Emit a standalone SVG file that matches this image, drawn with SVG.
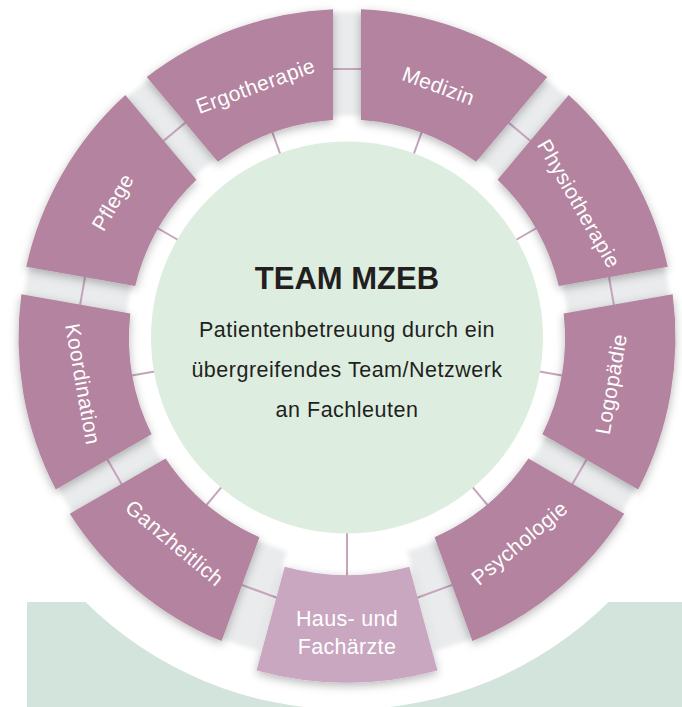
<svg xmlns="http://www.w3.org/2000/svg" width="682" height="707" viewBox="0 0 682 707">
<defs>
<filter id="shadow" x="-30%" y="-30%" width="160%" height="160%">
<feDropShadow dx="0" dy="3" stdDeviation="5" flood-color="#000" flood-opacity="0.28"/>
</filter>
<filter id="soft" x="-10%" y="-10%" width="120%" height="120%">
<feGaussianBlur stdDeviation="2"/>
</filter>
<style>
.sec{fill:#b3839f;filter:url(#shadow);}
.sec2{fill:#c9a7c0;filter:url(#shadow);}
.lbl{font-family:"Liberation Sans",Arial,sans-serif;font-size:21px;fill:#ffffff;text-anchor:middle;dominant-baseline:central;letter-spacing:0.4px;}
.con{stroke:#c5a4bc;stroke-width:2;fill:none;}
.ctr{font-family:"Liberation Sans",Arial,sans-serif;fill:#231f20;text-anchor:middle;}
.wt{fill:#ffffff;}
</style>
</defs>
<rect width="682" height="707" fill="#ffffff"/>
<rect x="27" y="602" width="655" height="105" fill="#d3e4dc"/>
<circle cx="347" cy="337.5" r="372" fill="#ffffff"/>
<path d="M347,12 A325.5,325.5 0 1 1 346.99,12 Z M347,115.5 A222,222 0 1 0 347.01,115.5 Z" fill="#e9ebec" fill-rule="evenodd" filter="url(#soft)"/>
<polygon points="347,337.5 438,660 256,660" fill="#ffffff" filter="url(#soft)"/>
<g id="connectors">
<line class="con" x1="321" y1="69" x2="373" y2="69"/>
<line class="con" x1="499.67" y1="115.12" x2="539.51" y2="148.54"/>
<line class="con" x1="606.91" y1="265.29" x2="615.93" y2="316.49"/>
<line class="con" x1="592.52" y1="449.23" x2="566.52" y2="494.27"/>
<line class="con" x1="463.26" y1="580.92" x2="414.40" y2="598.70"/>
<line class="con" x1="279.60" y1="598.70" x2="230.74" y2="580.92"/>
<line class="con" x1="127.48" y1="494.27" x2="101.48" y2="449.23"/>
<line class="con" x1="78.07" y1="316.49" x2="87.09" y2="265.29"/>
<line class="con" x1="154.49" y1="148.54" x2="194.33" y2="115.12"/>
<line class="con" x1="413.35" y1="155.20" x2="422.24" y2="130.77"/>
<line class="con" x1="515.0" y1="240.5" x2="537.52" y2="227.5"/>
<line class="con" x1="538.05" y1="371.18" x2="563.66" y2="375.69"/>
<line class="con" x1="471.70" y1="486.10" x2="488.42" y2="506.02"/>
<line class="con" x1="347" y1="531.5" x2="347" y2="579"/>
<line class="con" x1="222.30" y1="486.10" x2="205.58" y2="506.02"/>
<line class="con" x1="155.95" y1="371.18" x2="130.34" y2="375.69"/>
<line class="con" x1="179.0" y1="240.5" x2="156.48" y2="227.5"/>
<line class="con" x1="280.65" y1="155.20" x2="271.76" y2="130.77"/>
</g>
<g id="center">
<circle cx="347" cy="337.5" r="196" fill="#ddeee1"/>
<text class="ctr" x="347" y="289" font-size="31" font-weight="bold">TEAM MZEB</text>
<text class="ctr" x="347" y="336.5" font-size="21.5" letter-spacing="0.5">Patientenbetreuung durch ein</text>
<text class="ctr" x="347" y="376.5" font-size="21.5" letter-spacing="0.5">übergreifendes Team/Netzwerk</text>
<text class="ctr" x="347" y="416.5" font-size="21.5" letter-spacing="0.5">an Fachleuten</text>
</g>
<g id="medizin">
<path class="sec" d="M361,119.95 L361,9.3 A328.5,328.5 0 0 1 547.25,77.10 L476.12,161.86 A218,218 0 0 0 361,119.95 Z"/>
<text class="lbl" transform="translate(438.66,85.66) rotate(20)">Medizin</text>
</g>
<g id="physiotherapie">
<path class="sec" d="M497.56,179.86 L568.69,95.10 A328.5,328.5 0 0 1 667.78,266.73 L558.81,285.94 A218,218 0 0 0 497.56,179.86 Z"/>
<text class="lbl" transform="translate(579.09,203.5) rotate(60)">Physiotherapie</text>
</g>
<g id="logopaedie">
<path class="sec" d="M563.67,313.52 L672.64,294.31 A328.5,328.5 0 0 1 638.22,489.48 L542.40,434.16 A218,218 0 0 0 563.67,313.52 Z"/>
<text class="lbl" transform="translate(610.93,384.02) rotate(-80)">Logopädie</text>
</g>
<g id="psychologie">
<path class="sec" d="M528.40,458.40 L624.22,513.72 A328.5,328.5 0 0 1 472.40,641.12 L434.56,537.14 A218,218 0 0 0 528.40,458.40 Z"/>
<text class="lbl" transform="translate(519.27,542.79) rotate(-40)">Psychologie</text>
</g>
<g id="hausaerzte">
<path class="sec2" d="M409.27,566.69 L437.46,670.4 A345,345 0 0 1 256.54,670.4 L284.73,566.69 A237.5,237.5 0 0 0 409.27,566.69 Z"/>
<text class="ctr wt" x="347" y="626" font-size="21.5" letter-spacing="0.3">Haus- und</text>
<text class="ctr wt" x="347" y="654" font-size="21.5" letter-spacing="0.3">Fachärzte</text>
</g>
<g id="ganzheitlich">
<path class="sec" d="M259.44,537.14 L221.60,641.12 A328.5,328.5 0 0 1 69.78,513.72 L165.60,458.40 A218,218 0 0 0 259.44,537.14 Z"/>
<text class="lbl" transform="translate(174.73,542.79) rotate(40)">Ganzheitlich</text>
</g>
<g id="koordination">
<path class="sec" d="M151.60,434.16 L55.78,489.48 A328.5,328.5 0 0 1 21.36,294.31 L130.33,313.52 A218,218 0 0 0 151.60,434.16 Z"/>
<text class="lbl" transform="translate(83.07,384.02) rotate(80)">Koordination</text>
</g>
<g id="pflege">
<path class="sec" d="M135.19,285.94 L26.22,266.73 A328.5,328.5 0 0 1 125.31,95.10 L196.44,179.86 A218,218 0 0 0 135.19,285.94 Z"/>
<text class="lbl" transform="translate(112.5,202) rotate(-60)">Pflege</text>
</g>
<g id="ergotherapie">
<path class="sec" d="M217.88,161.86 L146.75,77.10 A328.5,328.5 0 0 1 333,9.3 L333,119.95 A218,218 0 0 0 217.88,161.86 Z"/>
<text class="lbl" transform="translate(255.34,85.66) rotate(-20)">Ergotherapie</text>
</g>
</svg>
